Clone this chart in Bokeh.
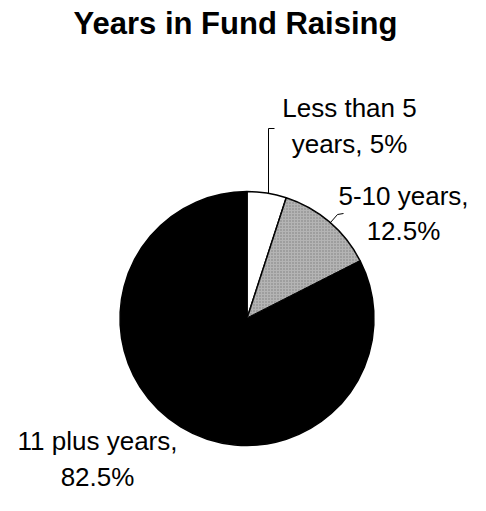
import math
from bokeh.plotting import figure
from bokeh.models import Range1d, ColumnDataSource
from bokeh.core.properties import value
from bokeh.embed import file_html
from bokeh.resources import INLINE

title_text = "Years in Fund Raising"
categories = ["Less than 5 years", "5-10 years", "11 plus years"]
shares = [5.0, 12.5, 82.5]
slice_colors = ["#ffffff", "#b4b4b4", "#000000"]
label_texts = ["Less than 5\nyears, 5%", "5-10 years,\n12.5%", "11 plus years,\n82.5%"]

W, H = 470, 495
TXT_DY = 12.5  # empirical correction of rendered text baseline


def px(x):
    return x


def py(y):
    return H - y


p = figure(width=W, height=H, output_backend="svg", toolbar_location=None,
           x_range=Range1d(0, W), y_range=Range1d(0, H), min_border=0)
p.axis.visible = False
p.grid.visible = False
p.outline_line_color = None
p.background_fill_color = "white"
p.border_fill_color = "white"

cx, cy, r = px(246.5), py(318), 127

total = sum(shares)
starts, ends = [], []
cum = 0.0
for s in shares:
    a0 = math.pi / 2 - 2 * math.pi * (cum + s) / total
    a1 = math.pi / 2 - 2 * math.pi * cum / total
    starts.append(a0)
    ends.append(a1)
    cum += s

src = ColumnDataSource(dict(x=[cx] * 3, y=[cy] * 3, start=starts, end=ends,
                            color=slice_colors, cat=categories))
p.wedge(x="x", y="y", radius=r, start_angle="start", end_angle="end",
        fill_color="color", line_color="black", line_width=1.5, source=src)
p.wedge(x=cx, y=cy, radius=r, start_angle=starts[1], end_angle=ends[1],
        fill_alpha=0, line_color=None, hatch_pattern="dot", hatch_color="#555555",
        hatch_scale=3, hatch_weight=1, hatch_alpha=0.6)

# labels: (centre x, first baseline y, line step) in screen pixels
label_pos = [(349, 120, 36), (403, 208, 35), (97, 453, 36)]
for txt, (lx, ly, step) in zip(label_texts, label_pos):
    lines = txt.split("\n")
    p.text(x=[px(lx)] * len(lines),
           y=[py(ly - TXT_DY + step * i) for i in range(len(lines))],
           text=lines, text_align="center", text_baseline="alphabetic",
           text_font=value("Liberation Sans"), text_font_size="26px", text_color="black")

p.line(x=[px(274), px(268), px(268)], y=[py(128), py(128), py(192.5)],
       line_color="black", line_width=1)
p.line(x=[px(330), px(337), px(343)], y=[py(222), py(214), py(213)],
       line_color="black", line_width=1)

p.text(x=[px(235)], y=[py(35 - TXT_DY)], text=[title_text], text_align="center",
       text_baseline="alphabetic", text_font=value("Liberation Sans"),
       text_font_size="31px", text_font_style="bold", text_color="black")

open("out.html", "w").write(file_html(p, INLINE))
